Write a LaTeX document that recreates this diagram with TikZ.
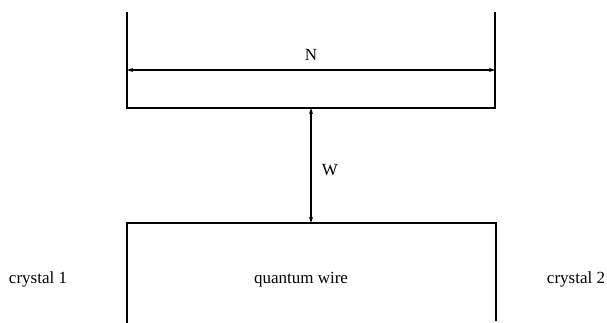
\documentclass[tikz,border=0pt]{standalone}
\usepackage{fontspec}
\setmainfont{Liberation Serif}
\usetikzlibrary{arrows.meta}
\begin{document}
\begin{tikzpicture}[x=1pt,y=-1pt,
  wall/.style={line width=1.6pt},
  dim/.style={line width=1.4pt,{Stealth[length=6pt,width=4pt]}-{Stealth[length=6pt,width=4pt]}},
  lbl/.style={font=\fontsize{17}{20}\selectfont,inner sep=0pt}]
\useasboundingbox (0,0) rectangle (607,323);
% upper region
\coordinate (ul) at (127,12);
\coordinate (ur) at (495,12);
\coordinate (ubl) at (127,108);
\coordinate (ubr) at (495,108);
\draw[wall] (ul) -- (ubl) -- (ubr) -- (ur);
% N dimension
\coordinate (nl) at (127,70);
\coordinate (nr) at (495,70);
\draw[dim] (nl) -- (nr);
\node[lbl] (N) at (311,55) {N};
% lower region (quantum wire)
\coordinate (ll) at (127,323);
\coordinate (ltl) at (127,223);
\coordinate (ltr) at (496,223);
\coordinate (lr) at (496,321);
\draw[wall] (ll) -- (ltl) -- (ltr) -- (lr);
% W dimension
\coordinate (wt) at (311,108);
\coordinate (wb) at (311,223);
\draw[dim] (wt) -- (wb);
\node[lbl] (W) at (330,170) {W};
\node[lbl] (qw) at (301,280) {quantum wire};
\node[lbl] (c1) at (38,279) {crystal 1};
\node[lbl] (c2) at (576,279) {crystal 2};
\end{tikzpicture}
\end{document}
